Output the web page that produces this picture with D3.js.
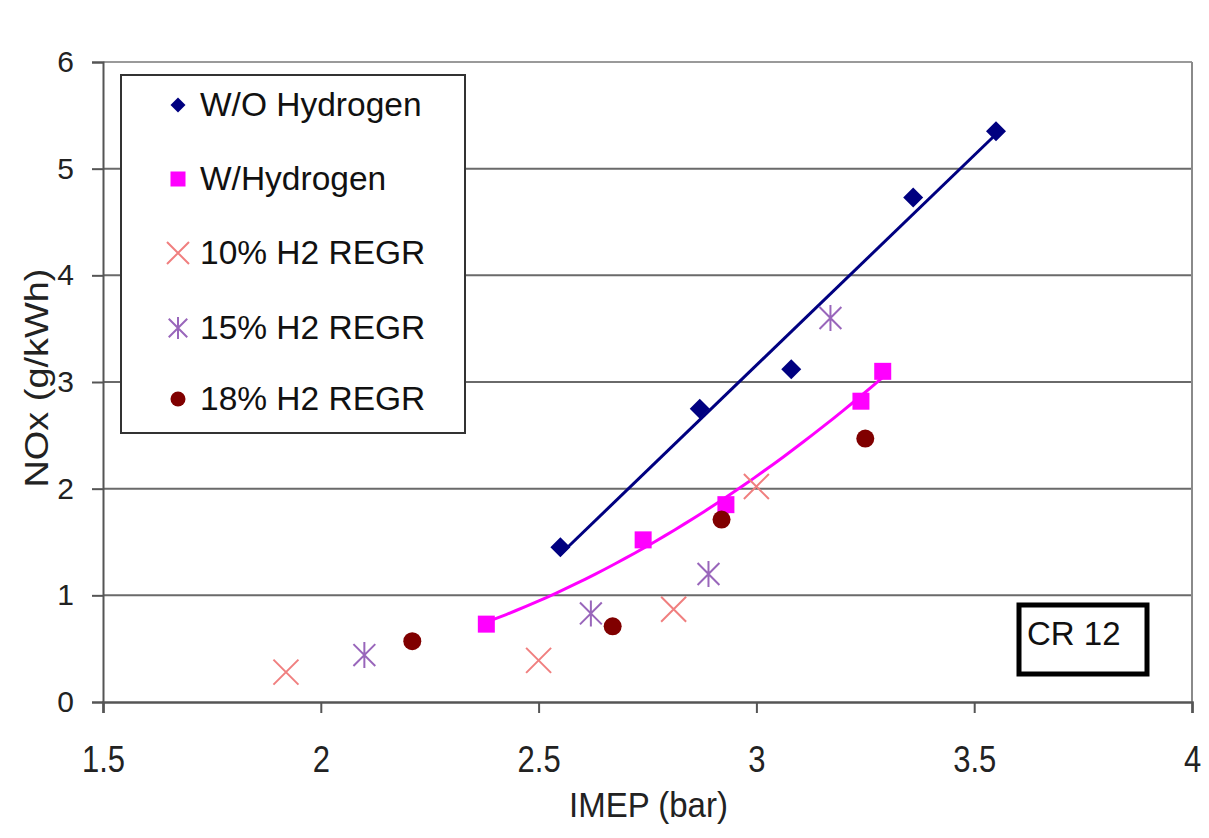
<!DOCTYPE html>
<html>
<head>
<meta charset="utf-8">
<script src="https://cdn.jsdelivr.net/npm/d3@7"></script>
<style>
  html, body { margin: 0; padding: 0; background: #fff; }
  svg { display: block; font-family: "Liberation Sans", Arial, sans-serif; }
</style>
</head>
<body>
<svg id="chart" width="1209" height="838"></svg>
<script>
// ---- data ----
const xTicks = [1.5, 2, 2.5, 3, 3.5, 4];
const yTicks = [0, 1, 2, 3, 4, 5, 6];
const seriesNames = ["W/O Hydrogen", "W/Hydrogen", "10% H2 REGR", "15% H2 REGR", "18% H2 REGR"];

const woH2X = [2.55, 2.87, 3.08, 3.36, 3.55];
const woH2Y = [1.45, 2.75, 3.12, 4.73, 5.35];

const wH2X = [2.38, 2.74, 2.93, 3.24, 3.29];
const wH2Y = [0.73, 1.52, 1.85, 2.82, 3.10];

const regr10X = [1.92, 2.50, 2.81, 3.00];
const regr10Y = [0.28, 0.39, 0.87, 2.02];

const regr15X = [2.10, 2.62, 2.89, 3.17];
const regr15Y = [0.44, 0.83, 1.20, 3.60];

const regr18X = [2.21, 2.67, 2.92, 3.25];
const regr18Y = [0.57, 0.71, 1.71, 2.47];

const annotation = "CR 12";

// ---- layout ----
const svg = d3.select("#chart");
const pL = 103, pR = 1192, pT = 62, pB = 702;
const x = d3.scaleLinear().domain([1.5, 4]).range([pL, pR]);
const y = d3.scaleLinear().domain([0, 6]).range([pB, pT]);

const colors = ["#000080", "#ff00ff", "#f07f7f", "#9966bb", "#800000"];

// gridlines
svg.append("g").selectAll("line").data(yTicks.filter(d => d > 0)).join("line")
  .attr("x1", pL).attr("x2", pR)
  .attr("y1", d => y(d)).attr("y2", d => y(d))
  .attr("stroke", d => d === 6 ? "#9a9a9a" : "#6a6a6a").attr("stroke-width", 2);
// right border
svg.append("line").attr("x1", pR).attr("x2", pR).attr("y1", pT).attr("y2", pB)
  .attr("stroke", "#8a8a8a").attr("stroke-width", 2);

// axes
const yAxis = d3.axisLeft(y).tickValues(yTicks).tickSize(11).tickPadding(18).tickFormat(d3.format("d"));
const gy = svg.append("g").attr("transform", `translate(${pL},0)`).call(yAxis);
gy.attr("font-size", null).attr("font-family", null);
gy.select(".domain").attr("stroke", "#555").attr("stroke-width", 2);
gy.selectAll(".tick line").attr("stroke", "#555").attr("stroke-width", 2);
gy.selectAll(".tick text").style("font-size", "30px").attr("fill", "#222");

const xAxis = d3.axisBottom(x).tickValues(xTicks).tickSize(11).tickPadding(30).tickFormat(d => String(d));
const gx = svg.append("g").attr("transform", `translate(0,${pB})`).call(xAxis);
gx.attr("font-size", null).attr("font-family", null);
gx.select(".domain").attr("stroke", "#555").attr("stroke-width", 2.5);
gx.selectAll(".tick line").attr("stroke", "#555").attr("stroke-width", 2);
gx.selectAll(".tick text").style("font-size", "31px").attr("fill", "#222")
  .attr("dy", "0")
  .attr("y", 0)
  .attr("transform", "translate(0,70) scale(1,1.2)");

// axis titles
svg.append("text").attr("transform", `translate(${(pL + pR) / 2 + 1},817) scale(1,1.08)`)
  .attr("text-anchor", "middle").style("font-size", "33px").attr("fill", "#222")
  .text("IMEP (bar)");
svg.append("text").attr("transform", "translate(48,378) rotate(-90)")
  .attr("text-anchor", "middle").style("font-size", "33px").attr("fill", "#222")
  .attr("textLength", 219).attr("lengthAdjust", "spacingAndGlyphs")
  .text("NOx (g/kWh)");

// ---- trend lines (fits computed from data) ----
function linFit(xs, ys) {
  const mx = d3.mean(xs), my = d3.mean(ys);
  let sxy = 0, sxx = 0;
  xs.forEach((v, i) => { sxy += (v - mx) * (ys[i] - my); sxx += (v - mx) ** 2; });
  const b = sxy / sxx;
  return v => my + b * (v - mx);
}
function quadFit(xs, ys) {
  const s = [0, 0, 0, 0, 0], t = [0, 0, 0];
  xs.forEach((v, i) => {
    for (let k = 0; k < 5; k++) s[k] += v ** k;
    for (let k = 0; k < 3; k++) t[k] += ys[i] * v ** k;
  });
  const M = [[s[0], s[1], s[2], t[0]], [s[1], s[2], s[3], t[1]], [s[2], s[3], s[4], t[2]]];
  for (let i = 0; i < 3; i++) {
    for (let j = i + 1; j < 3; j++) {
      const f = M[j][i] / M[i][i];
      for (let k = i; k < 4; k++) M[j][k] -= f * M[i][k];
    }
  }
  const c = [0, 0, 0];
  for (let i = 2; i >= 0; i--) {
    let sum = M[i][3];
    for (let k = i + 1; k < 3; k++) sum -= M[i][k] * c[k];
    c[i] = sum / M[i][i];
  }
  return v => c[0] + c[1] * v + c[2] * v * v;
}
const fWo = linFit(woH2X, woH2Y);
const fW = quadFit(wH2X, wH2Y);
const line = d3.line().x(d => x(d[0])).y(d => y(d[1]));

const woRange = d3.extent(woH2X);
svg.append("path").attr("d", line([[woRange[0], fWo(woRange[0])], [woRange[1], fWo(woRange[1])]]))
  .attr("fill", "none").attr("stroke", colors[0]).attr("stroke-width", 3);

const wRange = d3.extent(wH2X);
const wPts = d3.range(0, 41).map(i => { const v = wRange[0] + (wRange[1] - wRange[0]) * i / 40; return [v, fW(v)]; });
svg.append("path").attr("d", line(wPts))
  .attr("fill", "none").attr("stroke", colors[1]).attr("stroke-width", 3);

// ---- markers ----
function drawMarker(g, type, cx, cy, color, s) {
  if (type === 0) {
    const h = s / 2;
    g.append("path").attr("d", `M${cx},${cy - h}L${cx + h},${cy}L${cx},${cy + h}L${cx - h},${cy}Z`).attr("fill", color);
  } else if (type === 1) {
    g.append("rect").attr("x", cx - s / 2).attr("y", cy - s / 2).attr("width", s).attr("height", s).attr("fill", color);
  } else if (type === 2) {
    const h = s / 2;
    g.append("path").attr("d", `M${cx - h},${cy - h}L${cx + h},${cy + h}M${cx - h},${cy + h}L${cx + h},${cy - h}`)
      .attr("stroke", color).attr("stroke-width", 2).attr("fill", "none");
  } else if (type === 3) {
    const h = s / 2, w = s * 0.42;
    g.append("path").attr("d", `M${cx - w},${cy - w}L${cx + w},${cy + w}M${cx - w},${cy + w}L${cx + w},${cy - w}M${cx},${cy - h}L${cx},${cy + h}`)
      .attr("stroke", color).attr("stroke-width", 2).attr("fill", "none");
  } else {
    g.append("circle").attr("cx", cx).attr("cy", cy).attr("r", s / 2).attr("fill", color);
  }
}
const series = [
  [woH2X, woH2Y], [wH2X, wH2Y], [regr10X, regr10Y], [regr15X, regr15Y], [regr18X, regr18Y]
];
const plotSizes = [20, 17, 25, 26, 18];
const gm = svg.append("g");
series.forEach((s, k) => {
  s[0].forEach((v, i) => drawMarker(gm, k, x(v), y(s[1][i]), colors[k], plotSizes[k]));
});

// ---- legend ----
const lg = svg.append("g");
lg.append("rect").attr("x", 121).attr("y", 75).attr("width", 344).attr("height", 358)
  .attr("fill", "#fff").attr("stroke", "#333").attr("stroke-width", 2);
const legendSizes = [15, 15, 22, 22, 15];
const rowY = [105, 179, 253, 328, 399];
seriesNames.forEach((name, k) => {
  drawMarker(lg, k, 178, rowY[k], colors[k], legendSizes[k]);
  lg.append("text").attr("x", 200).attr("y", rowY[k] + 11).style("font-size", "33.5px").attr("fill", "#111").text(name);
});

// ---- annotation box ----
svg.append("rect").attr("x", 1019).attr("y", 605).attr("width", 128).attr("height", 69)
  .attr("fill", "#fff").attr("stroke", "#000").attr("stroke-width", 5);
svg.append("text").attr("x", 1027).attr("y", 645).style("font-size", "33px").attr("fill", "#111").text(annotation);
</script>
</body>
</html>
